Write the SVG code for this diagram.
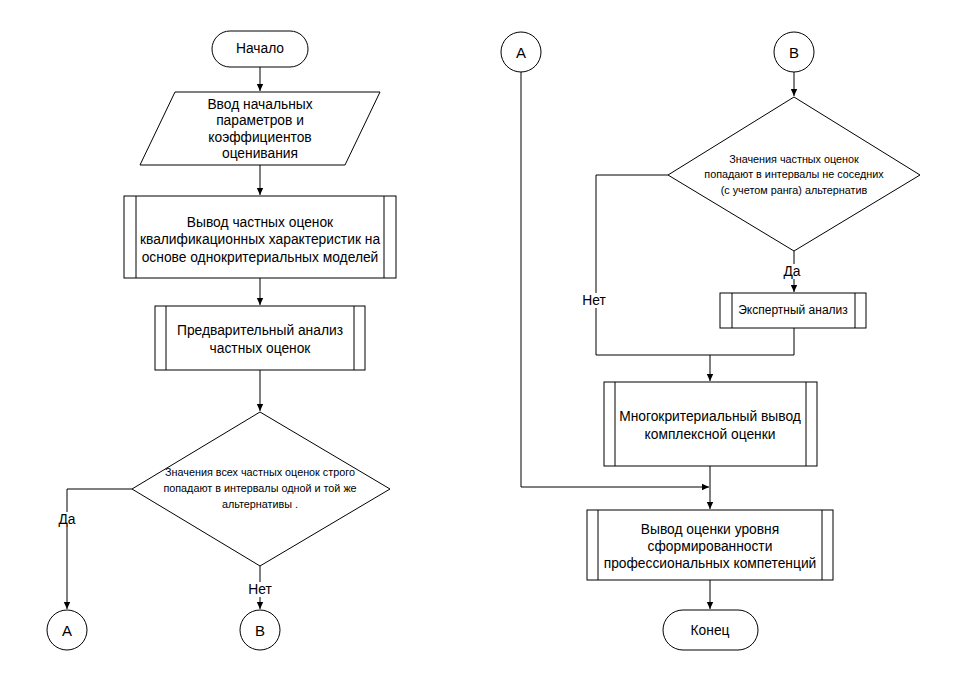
<svg xmlns="http://www.w3.org/2000/svg" width="958" height="688" viewBox="0 0 958 688">
<defs>
<marker id="arr" markerWidth="8" markerHeight="8" refX="7" refY="4" orient="auto" markerUnits="userSpaceOnUse">
<path d="M0,0.8 L7,4 L0,7.2 Z" fill="#000"/>
</marker>
<style>
.s{fill:#fff;stroke:#000;stroke-width:1}
.l{fill:none;stroke:#000;stroke-width:1}
.t{font-family:"Liberation Sans",Arial,sans-serif;font-size:13.8px;fill:#000;text-anchor:middle}
.sm{font-size:10.8px}
.c{fill:none;stroke:#000;stroke-width:1}
</style>
</defs>
<rect width="958" height="688" fill="#fff"/>
<g id="connectors">
<path class="c" d="M260,67 V91" marker-end="url(#arr)"/>
<path class="c" d="M260,165 V195" marker-end="url(#arr)"/>
<path class="c" d="M260,278 V305" marker-end="url(#arr)"/>
<path class="c" d="M260,370 V411" marker-end="url(#arr)"/>
<path class="c" d="M132,489 H67 V609" marker-end="url(#arr)"/>
<path class="c" d="M260,566 V609" marker-end="url(#arr)"/>
<path class="c" d="M521,72 V487 H709" marker-end="url(#arr)"/>
<path class="c" d="M794,72 V96" marker-end="url(#arr)"/>
<path class="c" d="M794,251 V292" marker-end="url(#arr)"/>
<path class="c" d="M668,175 H596 V355 H794 V328"/>
<path class="c" d="M710,355 V381" marker-end="url(#arr)"/>
<path class="c" d="M710,466 V509" marker-end="url(#arr)"/>
<path class="c" d="M710,580 V609" marker-end="url(#arr)"/>
<rect x="55" y="512" width="24" height="15" fill="#fff"/>
<text class="t" x="67" y="524">Да</text>
<rect x="246" y="582" width="28" height="15" fill="#fff"/>
<text class="t" x="260" y="594">Нет</text>
<rect x="780" y="264" width="24" height="15" fill="#fff"/>
<text class="t" x="792" y="276">Да</text>
<rect x="580" y="293" width="30" height="15" fill="#fff"/>
<text class="t" x="594" y="305">Нет</text>
</g>
<g id="start">
<rect class="s" x="212" y="31" width="96" height="36" rx="18"/>
<text class="t" x="260" y="53">Начало</text>
</g>
<g id="input">
<polygon class="s" points="175,92 380,92 345,165 140,165"/>
<text class="t" x="260" y="109">Ввод начальных</text>
<text class="t" x="260" y="125">параметров и</text>
<text class="t" x="260" y="142">коэффициентов</text>
<text class="t" x="260" y="158">оценивания</text>
</g>
<g id="p1">
<rect class="s" x="124" y="196" width="272" height="82"/>
<path class="l" d="M136,196 V278 M384,196 V278"/>
<text class="t" x="260" y="227">Вывод частных оценок</text>
<text class="t" x="260" y="244">квалификационных характеристик на</text>
<text class="t" x="260" y="262">основе однокритериальных моделей</text>
</g>
<g id="p2">
<rect class="s" x="155" y="306" width="210" height="64"/>
<path class="l" d="M166,306 V370 M354,306 V370"/>
<text class="t" x="260" y="335">Предварительный анализ</text>
<text class="t" x="260" y="353">частных оценок</text>
</g>
<g id="d1">
<polygon class="s" points="260,412 390,489 260,566 132,489"/>
<text class="t sm" x="260" y="476">Значения всех частных оценок строго</text>
<text class="t sm" x="260" y="492">попадают в интервалы одной и той же</text>
<text class="t sm" x="260" y="508">альтернативы .</text>
</g>
<g id="a1">
<circle class="s" cx="67" cy="630" r="20"/>
<text class="t" x="67" y="636" style="font-size:15px">A</text>
</g>
<g id="b1">
<circle class="s" cx="260" cy="630" r="20"/>
<text class="t" x="260" y="636" style="font-size:15px">B</text>
</g>
<g id="a2">
<circle class="s" cx="521" cy="52" r="20"/>
<text class="t" x="521" y="58" style="font-size:15px">A</text>
</g>
<g id="b2">
<circle class="s" cx="794" cy="52" r="20"/>
<text class="t" x="794" y="58" style="font-size:15px">B</text>
</g>
<g id="d2">
<polygon class="s" points="794,97 920,175 794,251 668,175"/>
<text class="t sm" x="794" y="163">Значения частных оценок</text>
<text class="t sm" x="794" y="178">попадают в интервалы не соседних</text>
<text class="t sm" x="794" y="194">(с учетом ранга) альтернатив</text>
</g>
<g id="expert">
<rect class="s" x="720" y="293" width="146" height="35"/>
<path class="l" d="M732,293 V328 M855,293 V328"/>
<text class="t" x="793" y="314" style="font-size:12px">Экспертный анализ</text>
</g>
<g id="p3">
<rect class="s" x="604" y="382" width="213" height="84"/>
<path class="l" d="M615,382 V466 M806,382 V466"/>
<text class="t" x="710" y="421">Многокритериальный вывод</text>
<text class="t" x="710" y="439">комплексной оценки</text>
</g>
<g id="p4">
<rect class="s" x="587" y="510" width="246" height="70"/>
<path class="l" d="M598,510 V580 M822,510 V580"/>
<text class="t" x="710" y="534">Вывод оценки уровня</text>
<text class="t" x="710" y="551">сформированности</text>
<text class="t" x="710" y="568">профессиональных компетенций</text>
</g>
<g id="end">
<rect class="s" x="663" y="610" width="95" height="40" rx="20"/>
<text class="t" x="710" y="635">Конец</text>
</g>
</svg>
